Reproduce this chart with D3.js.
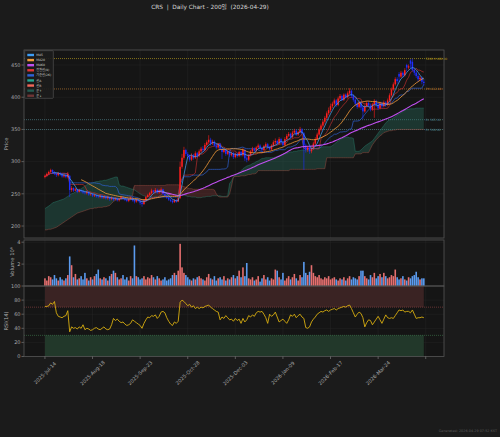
<!DOCTYPE html>
<html>
<head>
<meta charset="utf-8">
<script src="https://cdn.jsdelivr.net/npm/d3@7"></script>
<style>
html, body { margin: 0; padding: 0; background: #1b1b1b; }
svg { display: block; font-family: "DejaVu Sans", "Noto Sans CJK KR", sans-serif; }
</style>
</head>
<body>
<svg id="chart" width="500" height="437"></svg>
<script>
// daily bars, oldest first
const opens = [
  276, 278, 281, 284, 287, 283, 281, 279, 282, 280, 277, 279, 276,
  278,
  256, 259, 255, 257, 253, 256, 254,
  252, 251, 253, 249, 250, 247, 248, 246, 245, 247, 244, 246, 243, 245,
  242, 244, 241, 243, 240, 242, 245, 243, 241, 239, 242, 244, 240, 238, 241, 239,
  236,
  234, 240, 245, 248, 251, 255, 253,
  256, 252, 255, 257, 250, 247,
  244, 241, 239, 237, 240, 238,
  244,
  292, 306, 318, 312, 308, 303, 310, 306, 313, 309,
  316, 320, 318, 326, 330, 334, 328,
  331, 325, 322, 327, 320, 315, 318, 312, 316, 310, 313, 307, 312, 309, 315, 310,
  318, 305, 303, 310,
  316, 320, 317, 322, 325, 321, 318, 324, 327, 322, 319, 325,
  330, 332, 328, 335, 330,
  326, 335, 340, 343, 338, 345, 348, 342, 346, 350,
  344, 325, 318, 322, 316,
  320, 328, 335, 342, 350, 356, 362, 368, 375, 380,
  386, 390, 395, 388, 398, 402, 396, 404, 400, 406,
  410, 402, 396, 390, 385, 392, 384, 378, 386, 391, 387, 381, 389, 394, 388, 383, 390, 386, 392, 388,
  395, 403, 412, 420, 428, 436, 432, 438, 434, 450,
  446, 457, 455, 442, 438, 433, 428, 430, 424
];
const highs = [
  280, 283, 286, 289, 288, 285, 283, 284, 284, 282, 281, 281, 284,
  279,
  262, 260, 259, 258, 258, 257, 256,
  254, 255, 254, 252, 251, 250, 249, 248, 249, 248, 247, 247, 247, 246,
  246, 245, 244, 244, 243, 247, 246, 244, 243, 243, 246, 245, 242, 243, 242, 240,
  238,
  242, 247, 250, 253, 258, 256, 259,
  258, 257, 260, 258, 252, 249,
  246, 243, 241, 242, 242, 245,
  300,
  312, 323, 320, 315, 311, 313, 312, 316, 315, 319,
  323, 324, 329, 333, 341, 337, 334,
  333, 328, 329, 329, 322, 320, 320, 318, 318, 315, 315, 314, 314, 317, 317, 321,
  320, 308, 312, 318,
  323, 322, 324, 328, 327, 323, 326, 330, 329, 324, 327, 333,
  336, 334, 338, 337, 332,
  338, 343, 346, 345, 348, 351, 350, 348, 354, 352,
  346, 328, 324, 324, 322,
  331, 338, 345, 353, 359, 365, 371, 378, 384, 390,
  393, 398, 397, 401, 405, 404, 406, 406, 409, 414,
  412, 405, 399, 393, 395, 394, 387, 389, 394, 394, 390, 391, 397, 396, 391, 393, 393, 395, 394, 398,
  406, 415, 423, 431, 431, 439, 441, 440, 445, 452,
  451, 459, 460, 445, 441, 436, 433, 432, 427
];
const lows = [
  274, 276, 279, 282, 281, 279, 276, 277, 278, 275, 275, 274, 274,
  245,
  253, 253, 254, 251, 252, 252, 250,
  249, 249, 247, 247, 245, 245, 244, 243, 243, 242, 242, 241, 241, 239,
  240, 239, 240, 238, 238, 241, 241, 239, 237, 237, 240, 238, 235, 236, 237, 233,
  230,
  233, 238, 243, 246, 249, 251, 251,
  250, 250, 253, 248, 245, 242,
  239, 237, 235, 236, 236, 237,
  242,
  289, 303, 309, 305, 300, 301, 303, 304, 306, 307,
  313, 315, 316, 323, 327, 325, 326,
  323, 319, 320, 318, 304, 313, 309, 310, 307, 308, 304, 305, 306, 307, 308, 308,
  301, 299, 301, 308,
  313, 315, 315, 320, 319, 315, 316, 322, 320, 317, 317, 323,
  327, 326, 326, 328, 323,
  324, 333, 338, 336, 336, 343, 340, 340, 344, 342,
  287, 314, 315, 312, 313,
  318, 325, 333, 340, 347, 353, 359, 365, 372, 377,
  383, 387, 385, 386, 395, 394, 394, 398, 398, 404,
  399, 393, 387, 382, 383, 380, 366, 376, 384, 385, 378, 379, 368, 385, 380, 381, 383, 384, 385, 386,
  393, 401, 410, 418, 421, 423, 430, 430, 432, 440,
  443, 445, 440, 434, 430, 424, 425, 420, 418
];
const closes = [
  278, 281, 284, 287, 283, 281, 279, 282, 280, 277, 279, 276, 281,
  256,
  259, 255, 257, 253, 256, 254, 252,
  251, 253, 249, 250, 247, 248, 246, 245, 247, 244, 246, 243, 245, 242,
  244, 241, 243, 240, 242, 245, 243, 241, 239, 242, 244, 240, 238, 241, 239, 236,
  234,
  240, 245, 248, 251, 255, 253, 256,
  252, 255, 257, 250, 247, 244,
  241, 239, 237, 240, 238, 243,
  292,
  306, 318, 312, 308, 303, 310, 306, 313, 309, 316,
  320, 318, 326, 330, 334, 328, 331,
  325, 322, 327, 320, 315, 318, 312, 316, 310, 313, 307, 312, 309, 315, 310, 318,
  305, 303, 310, 316,
  320, 317, 322, 325, 321, 318, 324, 327, 322, 319, 325, 330,
  332, 328, 335, 330, 326,
  335, 340, 343, 338, 345, 348, 342, 346, 350, 344,
  325, 318, 322, 316, 320,
  328, 335, 342, 350, 356, 362, 368, 375, 380, 386,
  390, 395, 388, 398, 402, 396, 404, 400, 406, 410,
  402, 396, 390, 385, 392, 384, 378, 386, 391, 387, 381, 389, 394, 388, 383, 390, 386, 392, 388, 395,
  403, 412, 420, 428, 425, 432, 438, 434, 442, 446,
  448, 452, 442, 438, 433, 428, 430, 424, 422
];
// volume in millions
const volumes = [
  0.7, 0.5, 0.9, 0.8, 0.6, 1.0, 0.7, 0.5, 0.8, 0.6, 0.5, 0.7, 1.0,
  2.7, 1.9,
  0.8, 1.1, 0.6, 0.7, 0.9, 0.6, 1.2, 0.7, 0.5, 0.8, 0.6, 0.9, 1.1, 1.5, 0.7, 0.6,
  0.8, 0.7, 0.5, 0.9, 1.1, 1.4, 1.2, 0.8, 0.6, 0.7, 1.0, 0.6, 0.8, 0.5, 0.9, 0.7,
  3.7,
  0.9, 0.8, 0.6, 0.7, 0.9, 0.6, 0.8, 0.7, 1.0, 0.8, 0.6, 0.9, 0.7, 0.5, 0.6, 0.8, 0.5, 0.6, 0.7, 1.0, 1.2, 1.0, 1.4,
  3.85, 1.7, 1.2,
  1.0, 0.8, 0.6, 0.5, 0.7, 0.6, 0.8, 0.9, 0.7, 0.6, 0.5, 0.8, 1.1, 0.7, 0.6, 0.9, 0.5, 0.7, 0.8, 0.6, 0.9, 0.5, 0.7, 0.6, 0.8, 1.0,
  0.7, 0.9, 1.4, 0.8, 1.7, 0.9, 2.1, 0.7, 0.6, 0.8, 0.5,
  0.6, 0.9, 0.4, 0.7, 1.0, 0.6, 0.8, 0.5, 0.7, 0.6, 1.5, 1.4, 0.8, 0.6, 1.2, 0.5, 0.7, 0.9, 0.6, 0.8, 1.1, 0.7, 0.5, 1.0, 0.8,
  2.2, 1.2, 1.0, 1.3, 1.9,
  1.2, 0.9, 0.8, 1.0, 0.7, 0.6, 0.8, 0.7, 0.9, 0.6, 0.7, 0.8, 0.6, 0.5, 0.7, 0.6, 0.8, 0.5, 0.7, 0.9, 0.6, 0.8, 0.7, 0.6, 0.9,
  1.4, 1.4, 0.9, 0.7, 0.6, 1.0, 0.8, 1.2, 0.7, 0.9, 1.1, 0.8, 1.2, 0.9, 0.7, 0.8, 1.0, 0.9, 1.5, 0.8,
  0.6, 0.7, 0.9, 0.6, 0.5, 0.8, 0.7, 0.9, 1.0, 1.3, 0.8, 0.6, 0.7, 0.7
];
const rsi = [
  71, 71, 72, 76, 74, 78, 62, 57, 56, 55, 57, 58, 65,
  35,
  42, 40, 41, 39, 42, 40, 45,
  38, 40, 39, 37, 38, 40, 41, 39, 38, 40, 42, 39, 38,
  39, 45, 54, 51, 53,
  50, 48, 49, 46, 44, 45, 47,
  52, 50, 48, 46, 44, 40,
  47, 52, 56, 55, 58, 57, 59,
  54, 57, 63, 64, 62,
  55, 50, 46, 44, 49, 47, 50,
  77, 80, 78,
  75, 72, 74, 70, 72, 68, 70, 68,
  70, 69, 71, 72, 73, 70, 68,
  66, 64, 63,
  52, 56, 54, 58, 55, 52,
  53, 50, 54, 51, 53,
  47, 54, 49, 52, 58,
  56, 59, 57,
  62, 64, 63, 64, 60, 55,
  47, 60, 57, 59, 63, 56,
  49, 51, 53, 50, 47, 52,
  59, 57, 60, 55, 58, 60, 56,
  54, 41, 40, 42, 49,
  53, 56, 60, 62,
  64, 63, 65, 66, 64, 66, 67, 68, 66,
  68, 69, 70, 71, 70, 72, 73,
  68, 62, 56, 60, 63, 61, 55,
  42, 48, 52, 51, 45, 49, 53,
  57, 52, 47, 53, 59, 55,
  54, 55, 54, 58, 62,
  66, 65, 66, 63, 64,
  64, 62, 66, 60, 54,
  55, 55, 56, 55
];
// ichimoku leading spans as plotted (shifted forward)
const spanA = [
  227, 229, 231, 233, 236, 237, 238, 239, 240, 241,
  242, 244, 246, 248, 250, 251, 253, 254, 256, 258,
  260, 262, 264, 265, 266, 267, 268, 269, 269, 270,
  270, 271, 271, 272, 273, 274, 275, 276, 276, 264,
  262, 262, 261, 260, 259, 258, 257, 256, 254, 252,
  250, 248, 247, 246, 246, 245, 245, 245, 246, 246,
  246, 247, 247, 247, 248, 248, 248, 249, 249, 249,
  250, 250, 249, 248, 247, 246, 246, 245, 245, 245,
  244, 244, 244, 245, 245, 246, 246, 246, 247, 247,
  247, 247, 247, 246, 246, 246, 247, 266, 270, 276,
  279, 281, 283, 286, 289, 291, 293, 294, 295, 297,
  298, 300, 301, 303, 305, 305, 306, 306, 306, 306,
  306, 307, 308, 309, 310, 311, 312, 313, 314, 315,
  315, 316, 316, 317, 317, 318, 318, 318, 318, 318,
  318, 319, 320, 321, 322, 322, 323, 323, 323, 323,
  323, 325, 327, 330, 332, 334, 336, 337, 338, 338,
  337, 337, 336, 316, 316, 316, 318, 321, 324, 326,
  328, 330, 332, 336, 340, 344, 348, 352, 356, 360,
  363, 365, 366, 368, 370, 372, 374, 376, 378, 380,
  381, 381, 382, 382, 382, 383, 383, 383, 383, 383
];
const spanB = [
  194, 194, 195, 195, 196, 197, 198, 200, 202, 204,
  206, 208, 210, 212, 214, 216, 218, 220, 221, 222,
  223, 224, 225, 226, 227, 227, 228, 228, 229, 229,
  229, 230, 230, 231, 232, 235, 238, 240, 241, 242,
  243, 244, 244, 245, 246, 246, 247, 263, 263, 263,
  263, 263, 263, 263, 263, 263, 263, 263, 263, 263,
  263, 263, 263, 263, 264, 264, 264, 264, 264, 264,
  264, 263, 262, 261, 260, 259, 258, 258, 257, 257,
  257, 257, 257, 257, 257, 257, 257, 257, 257, 256,
  250, 246, 245, 245, 245, 245, 245, 250, 262, 276,
  277, 277, 277, 278, 278, 278, 279, 280, 280, 281,
  281, 282, 286, 286, 286, 286, 286, 286, 286, 286,
  286, 286, 286, 286, 286, 286, 286, 286, 286, 288,
  288, 288, 288, 288, 288, 288, 288, 288, 288, 288,
  288, 288, 288, 289, 289, 289, 289, 289, 306, 306,
  306, 306, 306, 306, 306, 306, 306, 306, 306, 306,
  306, 306, 306, 312, 312, 312, 312, 314, 314, 314,
  314, 320, 326, 330, 334, 337, 340, 342, 345, 346,
  347, 348, 348, 349, 349, 350, 350, 350, 350, 350,
  350, 350, 350, 350, 350, 350, 350, 350, 350, 350
];

const priceTicks = [200, 250, 300, 350, 400, 450];
const volumeTicks = [2, 4];
const rsiTicks = [0, 20, 40, 60, 80, 100];
const dateTickIndex = [0, 25, 50, 75, 100, 125, 150, 175, 200];
const dateTickLabels = ["2025-Jul-14", "2025-Aug-18", "2025-Sep-23", "2025-Oct-28", "2025-Dec-03",
  "2026-Jan-09", "2026-Feb-17", "2026-Mar-24", ""];
const refLevels = [460.0, 412.8, 365.1, 349.8];
const refLabels = ["52W H 460.00", "PH 412.80", "PL 365.10", "PL 349.80"];
const refColors = ["#b59a1c", "#b9772c", "#4f8088", "#4f8088"];
const legendNames = ["MA5", "MA20", "MA60", "전환선(9)", "기준선(26)", "선A", "선B", "운↑", "운↓"];
const legendColors = ["#3d9df5", "#f39a3a", "#c04ff0", "#e03535", "#2e62d6", "#22a690", "#f0675a", "#245a50", "#6e3535"];

const svg = d3.select("#chart");
const left = 24, right = 444;
svg.append("rect").attr("width", 500).attr("height", 437).attr("fill", "#1b1b1b");

const x = d3.scaleLinear().domain([-11, 209.6]).range([left, right]);
const yP = d3.scaleLinear().domain([181.4, 473.3]).range([238, 50]);
const yV = d3.scaleLinear().domain([0, 4.2]).range([286, 240]);
const yR = d3.scaleLinear().domain([0, 100]).range([356.5, 286]);

const panels = [
  { top: 50, bottom: 238, y: yP, ticks: priceTicks },
  { top: 240, bottom: 286, y: yV, ticks: volumeTicks },
  { top: 286, bottom: 356.5, y: yR, ticks: rsiTicks }
];

// panel backgrounds, grid, y ticks
panels.forEach((p, k) => {
  const g = svg.append("g");
  g.append("rect").attr("x", left).attr("y", p.top).attr("width", right - left)
    .attr("height", p.bottom - p.top).attr("fill", "#151515");
  g.selectAll(".vg").data(dateTickIndex).enter().append("line")
    .attr("x1", d => x(d)).attr("x2", d => x(d)).attr("y1", p.top).attr("y2", p.bottom)
    .attr("stroke", "#262626").attr("stroke-width", 0.5);
  g.selectAll(".hg").data(p.ticks).enter().append("line")
    .attr("x1", left).attr("x2", right).attr("y1", d => p.y(d)).attr("y2", d => p.y(d))
    .attr("stroke", "#262626").attr("stroke-width", 0.5);
  g.selectAll(".tk").data(p.ticks).enter().append("line")
    .attr("x1", left - 2.5).attr("x2", left).attr("y1", d => p.y(d)).attr("y2", d => p.y(d))
    .attr("stroke", "#8a8a8a").attr("stroke-width", 0.6);
  g.selectAll(".tl").data(p.ticks).enter().append("text")
    .attr("x", left - 3.5).attr("y", d => p.y(d)).attr("dy", "0.35em")
    .attr("text-anchor", "end").attr("font-size", 5).attr("fill", "#a8a8a8")
    .text(d => d);
});

svg.append("clipPath").attr("id", "clipP").append("rect")
  .attr("x", left).attr("y", 50).attr("width", right - left).attr("height", 188);
const gp = svg.append("g").attr("clip-path", "url(#clipP)");

// reference levels
gp.selectAll(".ref").data(refLevels).enter().append("line")
  .attr("x1", left).attr("x2", right).attr("y1", d => yP(d)).attr("y2", d => yP(d))
  .attr("stroke", (d, i) => refColors[i]).attr("stroke-width", 0.7).attr("stroke-dasharray", "1,1");

// ichimoku cloud
const idx = d3.range(closes.length);
const cloudUp = d3.area().x(i => x(i)).y0(i => yP(spanB[i])).y1(i => yP(Math.max(spanA[i], spanB[i])));
const cloudDn = d3.area().x(i => x(i)).y0(i => yP(spanA[i])).y1(i => yP(Math.max(spanA[i], spanB[i])));
gp.append("path").attr("d", cloudUp(idx)).attr("fill", "#2b7866").attr("fill-opacity", 0.33);
gp.append("path").attr("d", cloudDn(idx)).attr("fill", "#8c3b3b").attr("fill-opacity", 0.33);

const lineOf = (arr) => d3.line().defined(i => arr[i] != null).x(i => x(i)).y(i => yP(arr[i]));
gp.append("path").attr("d", lineOf(spanA)(idx)).attr("fill", "none")
  .attr("stroke", "#2a8a76").attr("stroke-width", 0.5).attr("stroke-opacity", 0.8);
gp.append("path").attr("d", lineOf(spanB)(idx)).attr("fill", "none")
  .attr("stroke", "#9c4b42").attr("stroke-width", 0.6).attr("stroke-opacity", 0.8);

// indicators from bars
const sma = (arr, w) => arr.map((_, i) => i < w - 1 ? null : d3.mean(arr.slice(i - w + 1, i + 1)));
const midpoint = (w) => closes.map((_, i) => {
  const s = Math.max(0, i - w + 1);
  return (d3.max(highs.slice(s, i + 1)) + d3.min(lows.slice(s, i + 1))) / 2;
});
const tenkan = midpoint(9);
const kijun = midpoint(26);
const ma5 = sma(closes, 5);
const ma20 = sma(closes, 20);
const ma60 = sma(closes, 60);

gp.append("path").attr("d", lineOf(kijun)(idx)).attr("fill", "none")
  .attr("stroke", "#2e62d6").attr("stroke-width", 0.8).attr("stroke-opacity", 0.85);
gp.append("path").attr("d", lineOf(tenkan)(idx)).attr("fill", "none")
  .attr("stroke", "#c83030").attr("stroke-width", 0.8).attr("stroke-opacity", 0.8);

// candles
const up = i => closes[i] >= opens[i];
gp.selectAll(".wick").data(idx).enter().append("line")
  .attr("x1", i => x(i)).attr("x2", i => x(i))
  .attr("y1", i => yP(highs[i])).attr("y2", i => yP(lows[i]))
  .attr("stroke", i => up(i) ? "#ff1e1e" : "#1e2eff").attr("stroke-width", 0.6);
gp.selectAll(".body").data(idx).enter().append("rect")
  .attr("x", i => x(i) - 0.75).attr("width", 1.5)
  .attr("y", i => yP(Math.max(opens[i], closes[i])))
  .attr("height", i => Math.max(0.5, Math.abs(yP(opens[i]) - yP(closes[i]))))
  .attr("fill", i => up(i) ? "#ff1e1e" : "#1e2eff");

gp.append("path").attr("d", lineOf(ma60)(idx)).attr("fill", "none")
  .attr("stroke", "#c04ff0").attr("stroke-width", 1.1);
gp.append("path").attr("d", lineOf(ma20)(idx)).attr("fill", "none")
  .attr("stroke", "#f39a3a").attr("stroke-width", 0.8);
gp.append("path").attr("d", lineOf(ma5)(idx)).attr("fill", "none")
  .attr("stroke", "#4aa3f5").attr("stroke-width", 0.8).attr("stroke-opacity", 0.9);

// reference labels
svg.selectAll(".refl").data(refLevels).enter().append("text")
  .attr("x", x(199) + 2).attr("y", d => yP(d)).attr("dy", "0.35em")
  .attr("font-size", 3).attr("fill", (d, i) => refColors[i]).text((d, i) => refLabels[i]);

// volume
svg.selectAll(".vol").data(idx).enter().append("rect")
  .attr("x", i => x(i) - 0.8).attr("width", 1.6)
  .attr("y", i => yV(volumes[i])).attr("height", i => yV(0) - yV(volumes[i]))
  .attr("fill", i => up(i) ? "#e56f6f" : "#5b9bef");

// rsi
const rsiG = svg.append("g");
rsiG.append("rect").attr("x", x(0)).attr("width", x(closes.length - 1) - x(0))
  .attr("y", yR(100)).attr("height", yR(70) - yR(100)).attr("fill", "#3a2323");
rsiG.append("rect").attr("x", x(0)).attr("width", x(closes.length - 1) - x(0))
  .attr("y", yR(30)).attr("height", yR(0) - yR(30)).attr("fill", "#22382a");
rsiG.append("line").attr("x1", left).attr("x2", right).attr("y1", yR(70)).attr("y2", yR(70))
  .attr("stroke", "#9a4646").attr("stroke-width", 0.6).attr("stroke-dasharray", "1,1");
rsiG.append("line").attr("x1", left).attr("x2", right).attr("y1", yR(30)).attr("y2", yR(30))
  .attr("stroke", "#3f8050").attr("stroke-width", 0.6).attr("stroke-dasharray", "1,1");
rsiG.append("path").attr("d", d3.line().x(i => x(i)).y(i => yR(rsi[i]))(idx))
  .attr("fill", "none").attr("stroke", "#d8ae10").attr("stroke-width", 0.9);

// panel frames
panels.forEach(p => {
  svg.append("rect").attr("x", left).attr("y", p.top).attr("width", right - left)
    .attr("height", p.bottom - p.top).attr("fill", "none").attr("stroke", "#555").attr("stroke-width", 0.8);
});

// x axis
svg.selectAll(".xt").data(dateTickIndex).enter().append("line")
  .attr("x1", d => x(d)).attr("x2", d => x(d)).attr("y1", 356.5).attr("y2", 359)
  .attr("stroke", "#8a8a8a").attr("stroke-width", 0.6);
svg.selectAll(".xl").data(dateTickIndex).enter().append("text")
  .attr("transform", d => `translate(${x(d)},${373}) rotate(-45)`)
  .attr("text-anchor", "middle").attr("dy", "0.35em")
  .attr("font-size", 5).attr("fill", "#a8a8a8")
  .text((d, i) => dateTickLabels[i]);

// axis titles
const ytitle = (label, cx, cy) => svg.append("text")
  .attr("transform", `translate(${cx},${cy}) rotate(-90)`)
  .attr("text-anchor", "middle").attr("font-size", 5.2).attr("fill", "#b0b0b0").text(label);
ytitle("Price", 8, 144);
ytitle("Volume  10⁶", 14, 262);
ytitle("RSI(14)", 8, 321);

// title + footer
svg.append("text").attr("x", 210).attr("y", 9).attr("text-anchor", "middle")
  .attr("font-size", 5.8).attr("fill", "#d8d8d8").style("white-space", "pre")
  .text("CRS  |  Daily Chart - 200일  (2026-04-29)");
svg.append("text").attr("x", 497).attr("y", 432).attr("text-anchor", "end")
  .attr("font-size", 3.4).attr("fill", "#5a5a5a")
  .text("Generated: 2026-04-29 07:52 KST");

// legend
const lg = svg.append("g");
lg.append("rect").attr("x", 24.7).attr("y", 50.7).attr("width", 28.6).attr("height", 47.6)
  .attr("fill", "#1c1c1c").attr("fill-opacity", 0.9).attr("stroke", "#5a5a5a").attr("stroke-width", 0.6).attr("rx", 0.8);
lg.selectAll(".sw").data(legendNames).enter().append("rect")
  .attr("x", 27.3).attr("y", (d, i) => 53.8 + i * 5.09).attr("width", 6.7).attr("height", 2.4)
  .attr("fill", (d, i) => legendColors[i]);
lg.selectAll(".lt").data(legendNames).enter().append("text")
  .attr("x", 36.3).attr("y", (d, i) => 55 + i * 5.09).attr("dy", "0.35em")
  .attr("font-size", 3.1).attr("fill", "#c8c8c8").text(d => d);
</script>
</body>
</html>
